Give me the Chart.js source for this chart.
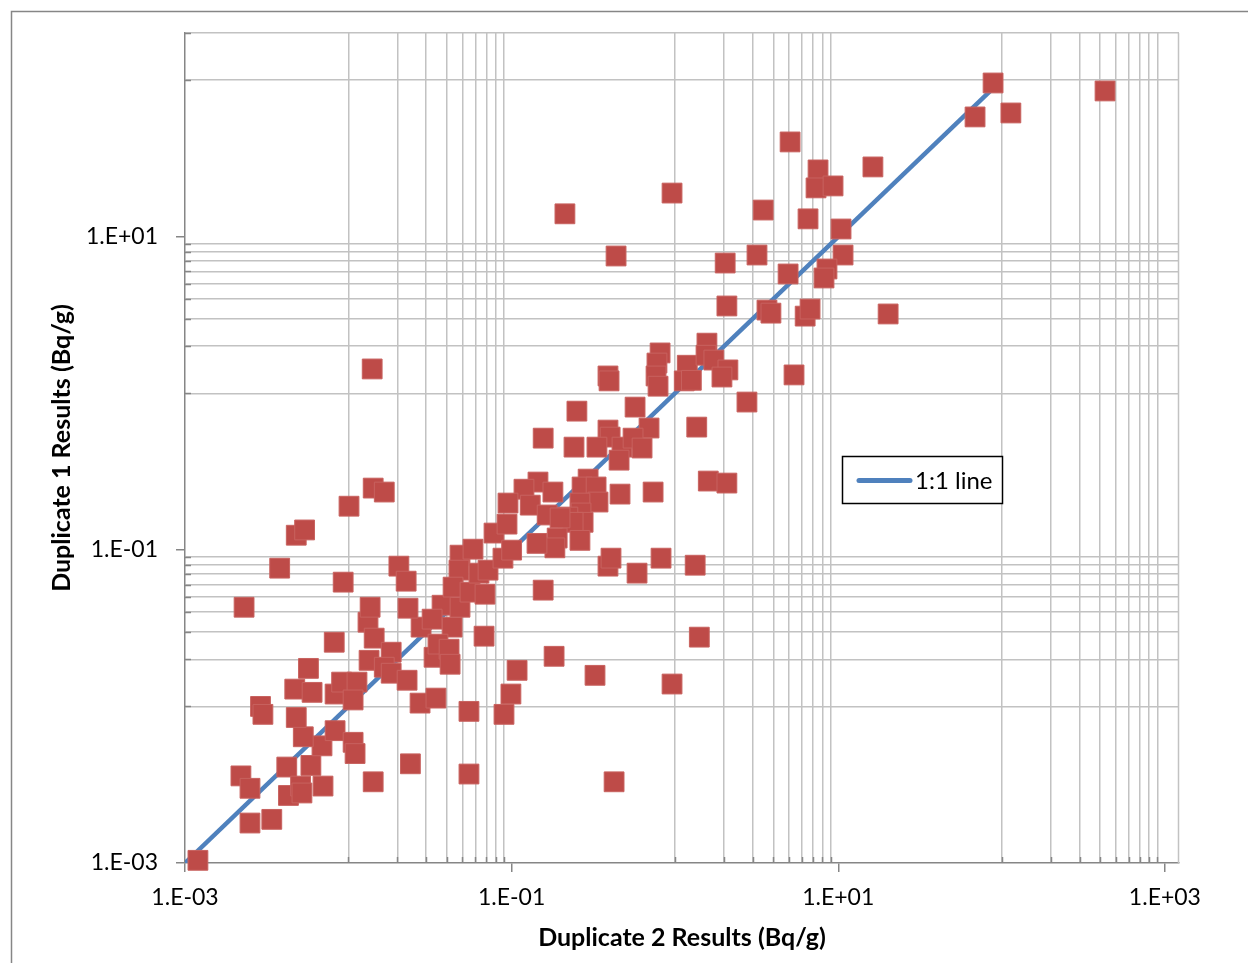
<!DOCTYPE html>
<html>
<head>
<meta charset="utf-8">
<script src="https://cdn.jsdelivr.net/npm/chart.js@4.4.1/dist/chart.umd.min.js"></script>
<style>
  html, body { margin: 0; padding: 0; background: #fff; }
  canvas { display: block; }
</style>
</head>
<body>
<canvas id="chart-1" width="1248" height="963"></canvas>
<script>
// Duplicate 2 results (x) and Duplicate 1 results (y), Bq/g
var dup2Results = [
    0.0012, 0.0025, 0.0034, 0.0022, 0.0025, 0.0042, 0.0043, 0.0059, 0.0051, 0.0052,
    0.0070, 0.0069, 0.0053, 0.0048, 0.0083, 0.0107, 0.011, 0.0142, 0.024, 0.0029,
    0.0030, 0.0057, 0.0047, 0.0060, 0.0082, 0.0083, 0.0091, 0.0113, 0.0107, 0.0132,
    0.0144, 0.0134, 0.0183, 0.0166, 0.0183, 0.0229, 0.0275, 0.0279, 0.0335, 0.0344,
    0.0140, 0.0142, 0.0166, 0.0101, 0.0048, 0.0054, 0.0038, 0.0093, 0.0023, 0.0204,
    0.0226, 0.0136, 0.0232, 0.0375, 0.0548, 0.0548, 0.0326, 0.0432, 0.0354, 0.0414,
    0.0420, 0.0483, 0.058, 0.0476, 0.0438, 0.0483, 0.0556, 0.0631, 0.0717, 0.0687,
    0.078, 0.0937, 0.0885, 0.100, 0.0678, 0.108, 0.099, 0.0898, 0.156, 0.182,
    0.324, 0.389, 0.406, 0.586, 0.424, 0.156, 0.251, 0.389, 0.395, 0.811,
    0.776, 0.766, 0.788, 0.570, 0.694, 0.389, 0.401, 0.241, 0.333, 0.474,
    0.554, 0.629, 0.455, 0.461, 0.735, 0.294, 0.270, 0.329, 0.338, 0.262,
    0.266, 0.274, 0.221, 0.238, 0.262, 0.190, 0.184, 0.143, 0.145, 0.119,
    0.179, 0.095, 0.130, 0.165, 0.198, 2.08, 3.66, 3.87, 6.27, 6.72,
    1.57, 1.19, 1.55, 1.73, 2.11, 1.94, 1.14, 1.26, 5.36, 2.76,
    1.36, 1.60, 2.08, 0.96, 5.07, 7.52, 7.31, 9.29, 16.3, 3.47,
    6.53, 10.4, 3.18, 2.03, 4.93, 10.7, 8.53, 8.18, 20.2, 0.212,
    0.436, 88.7, 68.8, 114, 430, 0.822, 1.33, 1.41, 0.96
];
var dup1Results = [
    0.00104, 0.0018, 0.0019, 0.0036, 0.0030, 0.0041, 0.0027, 0.0042, 0.0031, 0.0028,
    0.0031, 0.0056, 0.0064, 0.0085, 0.0070, 0.0059, 0.0050, 0.0033, 0.0043, 0.0100,
    0.0089, 0.0175, 0.0129, 0.0123, 0.0257, 0.0120, 0.0143, 0.0143, 0.0110, 0.0345,
    0.0273, 0.0197, 0.0222, 0.0178, 0.0163, 0.0147, 0.0105, 0.0321, 0.0206, 0.0113,
    1.43, 0.248, 0.234, 0.190, 0.124, 0.134, 0.0764, 0.0622, 0.0430, 0.0787,
    0.0631, 0.0430, 0.0424, 0.0443, 0.0093, 0.0037, 0.0361, 0.0321, 0.0250, 0.0232,
    0.0186, 0.0925, 0.101, 0.0742, 0.0578, 0.0430, 0.0537, 0.0710, 0.0742, 0.0521,
    0.128, 0.146, 0.0885, 0.0996, 0.0281, 0.0170, 0.0120, 0.0089, 0.0553, 0.0209,
    0.0158, 0.0787, 0.0885, 0.0710, 0.0033, 0.517, 0.769, 1.29, 1.20, 1.81,
    1.56, 1.29, 1.11, 0.816, 0.600, 0.582, 0.525, 0.453, 0.453, 0.453,
    0.517, 0.447, 0.374, 0.227, 0.234, 0.283, 0.252, 0.252, 0.202, 0.199,
    0.172, 0.150, 0.162, 0.150, 0.115, 0.119, 0.103, 0.110, 0.271, 0.244,
    0.234, 0.199, 0.193, 0.167, 0.160, 3.61, 3.40, 3.25, 3.11, 3.45,
    2.09, 1.51, 1.75, 1.63, 1.41, 1.27, 1.20, 1.21, 1.31, 0.879,
    0.608, 0.275, 0.267, 19.0, 40.3, 26.7, 20.5, 21.1, 27.9, 14.8,
    13.0, 11.2, 7.64, 6.79, 5.78, 7.64, 6.22, 5.45, 3.21, 14.0,
    7.53, 95.9, 58.2, 61.7, 85.3, 0.0885, 0.0798, 0.0277, 0.0139
];

// 1:1 reference line
var lineX = [0.001, 100];
var lineY = [0.001, 100];

// axis ticks
var majorTicksX = [0.001, 0.1, 10, 1000];
var majorTicksY = [0.001, 0.1, 10];
var minorTicks = [0.01, 0.02, 0.03, 0.04, 0.05, 0.06, 0.07, 0.08, 0.09,
                  1, 2, 3, 4, 5, 6, 7, 8, 9,
                  100, 200, 300, 400, 500, 600, 700, 800, 900];

var xTitle = 'Duplicate 2 Results (Bq/g)';
var yTitle = 'Duplicate 1 Results (Bq/g)';
var lineLabel = '1:1 line';

var axisGrey = '#868686';
var gridGrey = '#C2C2C2';
var fontFamily = 'Lato, "Open Sans", sans-serif';

function sciLabel(v) {
    var e = Math.round(Math.log10(v));
    var s = Math.abs(e) < 10 ? '0' + Math.abs(e) : '' + Math.abs(e);
    return '1.E' + (e < 0 ? '-' : '+') + s;
}

function buildTicks(majors, min, max) {
    var all = majors.map(function (v) { return { value: v, major: true }; })
        .concat(minorTicks.map(function (v) { return { value: v, major: false }; }));
    return all.filter(function (t) {
        return t.value >= min * 0.999 && t.value <= max * 1.001;
    }).sort(function (a, b) { return a.value - b.value; });
}

function gridColor(c) { return c.tick && c.tick.major ? 'rgba(0,0,0,0)' : gridGrey; }
function tickColor(c) { return c.tick && c.tick.major ? axisGrey : 'rgba(0,0,0,0)'; }
function tickLabel(value, index, ticks) { return ticks[index].major ? sciLabel(value) : ''; }

// frame, plot border, minor inner ticks and the boxed legend
var chartDecor = {
    id: 'chartDecor',
    beforeDraw: function (chart) {
        var ctx = chart.ctx;
        ctx.save();
        ctx.strokeStyle = axisGrey;
        ctx.lineWidth = 1.5;
        ctx.strokeRect(11.5, 11.5, 1400, 1100);
        ctx.restore();
    },
    beforeDatasetsDraw: function (chart) {
        var ctx = chart.ctx;
        var a = chart.chartArea;
        var xs = chart.scales.x, ys = chart.scales.y;
        ctx.save();
        ctx.lineWidth = 1.5;
        ctx.strokeStyle = gridGrey;
        ctx.beginPath();
        ctx.moveTo(Math.round(a.right) - 0.5, a.top);
        ctx.lineTo(Math.round(a.right) - 0.5, a.bottom);
        ctx.stroke();
        ctx.strokeStyle = axisGrey;
        ctx.beginPath();
        xs.ticks.forEach(function (t) {
            if (t.major) return;
            var px = Math.round(xs.getPixelForValue(t.value)) + 0.5;
            ctx.moveTo(px, a.bottom);
            ctx.lineTo(px, a.bottom - 6);
        });
        ys.ticks.forEach(function (t) {
            if (t.major) return;
            var py = Math.round(ys.getPixelForValue(t.value)) + 0.5;
            ctx.moveTo(a.left, py);
            ctx.lineTo(a.left + 6, py);
        });
        ctx.stroke();
        ctx.restore();
    },
    afterDraw: function (chart) {
        var ctx = chart.ctx;
        var ds = chart.data.datasets[1];
        ctx.save();
        ctx.fillStyle = '#fff';
        ctx.fillRect(842.5, 456.5, 160, 47);
        ctx.strokeStyle = '#000';
        ctx.lineWidth = 1.5;
        ctx.strokeRect(842.5, 456.5, 160, 47);
        ctx.strokeStyle = ds.borderColor;
        ctx.lineWidth = 5;
        ctx.lineCap = 'round';
        ctx.beginPath();
        ctx.moveTo(859, 480.5);
        ctx.lineTo(910, 480.5);
        ctx.stroke();
        ctx.fillStyle = '#000';
        ctx.font = '24px ' + fontFamily;
        ctx.textBaseline = 'middle';
        ctx.textAlign = 'left';
        ctx.fillText(ds.label, 915, 481);
        ctx.restore();
    }
};

var ctx1 = document.getElementById('chart-1').getContext('2d');

var chartConfig = {
    type: 'scatter',
    data: {
        datasets: [{
            label: 'Duplicates',
            data: dup2Results.map(function (x, i) { return { x: x, y: dup1Results[i] }; }),
            pointStyle: 'rect',
            pointRadius: 14,
            backgroundColor: '#BE4B48',
            borderColor: '#C8625F',
            borderWidth: 1,
            clip: false
        }, {
            type: 'line',
            label: lineLabel,
            data: lineX.map(function (x, i) { return { x: x, y: lineY[i] }; }),
            borderColor: '#4F81BD',
            borderWidth: 4.5,
            pointRadius: 0,
            fill: false
        }]
    },
    options: {
        responsive: false,
        animation: false,
        events: [],
        devicePixelRatio: 1,
        layout: { padding: { left: 0, top: 33, right: 69, bottom: 0 } },
        plugins: {
            legend: { display: false },
            tooltip: { enabled: false }
        },
        scales: {
            x: {
                type: 'logarithmic',
                position: 'bottom',
                min: 0.001,
                max: 1220,
                afterBuildTicks: function (scale) { scale.ticks = buildTicks(majorTicksX, scale.min, scale.max); },
                afterFit: function (scale) { scale.height = 100; },
                grid: { color: gridColor, tickColor: tickColor, tickLength: 9, lineWidth: 1.5 },
                border: { display: true, color: axisGrey, width: 1.5 },
                ticks: {
                    autoSkip: false, maxRotation: 0, padding: 12,
                    color: '#000', font: { family: fontFamily, size: 23 },
                    callback: tickLabel
                },
                title: {
                    display: true, text: xTitle, color: '#000',
                    font: { family: fontFamily, size: 25, weight: 'bold' },
                    padding: { top: 0, bottom: 10 }
                }
            },
            y: {
                type: 'logarithmic',
                position: 'left',
                min: 0.001,
                max: 200,
                afterBuildTicks: function (scale) { scale.ticks = buildTicks(majorTicksY, scale.min, scale.max); },
                afterFit: function (scale) { scale.width = 185; },
                grid: { color: gridColor, tickColor: tickColor, tickLength: 9, lineWidth: 1.5 },
                border: { display: true, color: axisGrey, width: 1.5 },
                ticks: {
                    autoSkip: false, padding: 18,
                    color: '#000', font: { family: fontFamily, size: 23 },
                    callback: tickLabel
                },
                title: {
                    display: true, text: yTitle, color: '#000',
                    font: { family: fontFamily, size: 25, weight: 'bold' },
                    padding: { top: 47, bottom: 0 }
                }
            }
        }
    },
    plugins: [chartDecor]
};

var scatterChart = new Chart(ctx1, chartConfig);
</script>
</body>
</html>
